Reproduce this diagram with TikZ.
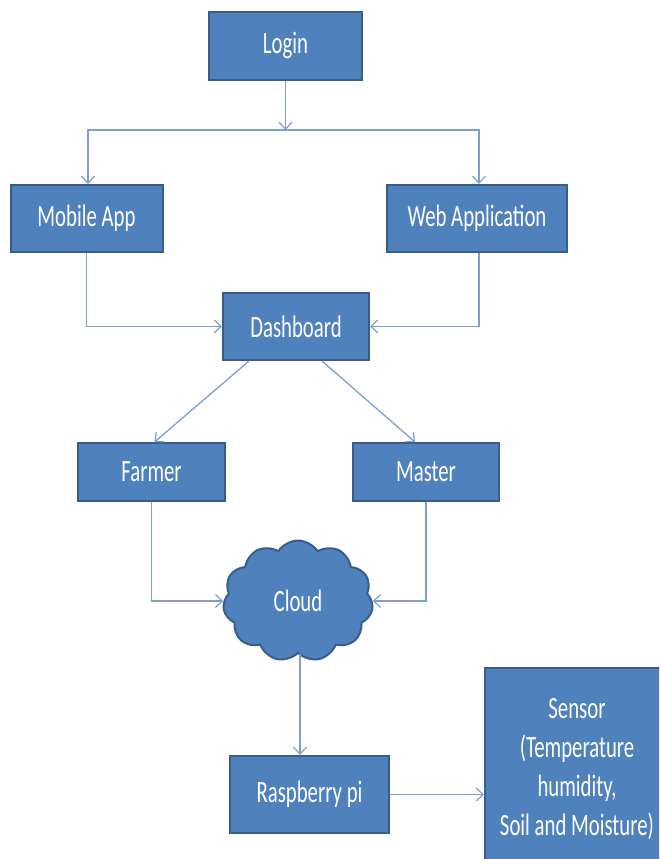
\documentclass[tikz,border=0pt]{standalone}
\usepackage{fontspec}
\newfontfamily\boxfont[FakeStretch=0.67]{Carlito}
\usetikzlibrary{arrows.meta,shapes.symbols,calc}
\definecolor{boxfill}{RGB}{79,129,189}
\definecolor{boxline}{RGB}{56,93,138}
\definecolor{conn}{RGB}{125,160,208}
\tikzset{
  blk/.style={draw=boxline, fill=boxfill, line width=2pt, inner sep=0pt,
    text=white, font=\boxfont\fontsize{31}{39}\selectfont, align=center},
  conline/.style={draw=conn, line width=1.3pt},
  conarrow/.style={conline, -{Straight Barb[length=7pt,width=13pt,line width=1.2pt]}}
}
\begin{document}
\begin{tikzpicture}[x=1pt,y=1pt]
\useasboundingbox (0,0) rectangle (659,-859);
\clip (0,0) rectangle (659,-859);
\fill[white] (0,0) rectangle (659,-859);

\node[blk, minimum width=153pt, minimum height=68pt] (login) at (285.5,-46) {Login};
\node[blk, minimum width=152pt, minimum height=67pt] (mobile) at (86.5,-218.5) {Mobile App};
\node[blk, minimum width=180pt, minimum height=67pt] (web) at (477,-218.5) {Web Application};
\node[blk, minimum width=146pt, minimum height=67pt] (dash) at (296,-326.5) {Dashboard};
\node[blk, minimum width=147pt, minimum height=58pt] (farmer) at (151.5,-472) {Farmer};
\node[blk, minimum width=146pt, minimum height=58pt] (master) at (426,-472) {Master};
\node[blk, cloud, cloud puffs=11, cloud puff arc=115, cloud ignores aspect,
      minimum width=150pt, minimum height=121pt] (cloud) at (298,-601) {Cloud};
\node[blk, minimum width=184pt, minimum height=202pt] (sensor) at (577,-769)
  {Sensor\\(Temperature\\humidity,\\Soil and Moisture)};
\node[blk, minimum width=159pt, minimum height=77pt] (rasp) at (309.5,-794.5) {Raspberry pi};

\coordinate (split) at (285.5,-130);
\draw[conarrow] (login.south) -- (split);
\draw[conarrow] (split) -| ([xshift=1.5pt]mobile.north);
\draw[conarrow] (split) -| ([xshift=2pt]web.north);

\draw[conarrow] (mobile.south) |- (dash.west);
\draw[conarrow] ([xshift=2pt]web.south) |- (dash.east);

\draw[conarrow] ([xshift=-47pt]dash.south) -- ([xshift=3pt]farmer.north);
\draw[conarrow] ([xshift=26pt]dash.south) -- ([xshift=-11pt]master.north);

\draw[conarrow] (farmer.south) |- (cloud.west);
\draw[conarrow] (master.south) |- (cloud.east);

\draw[conarrow] ([xshift=2pt]cloud.south) -- ([xshift=2pt]cloud.south |- rasp.north);
\draw[conarrow] (rasp.east) -- (sensor.west |- rasp.east);
\end{tikzpicture}
\end{document}
